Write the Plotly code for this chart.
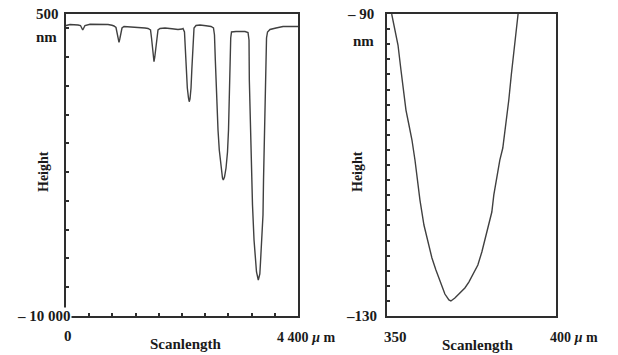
import plotly.graph_objects as go

# ---- Left profile: scan length (um) vs height (nm) ----
left_x = [0, 76, 228, 275, 303, 317, 332, 360, 455, 645, 797, 872,
          910, 948, 973, 992, 1005, 1020, 1039, 1062, 1100, 1214, 1403, 1498,
          1555, 1603, 1622, 1637, 1654, 1669, 1684, 1703, 1720, 1745, 1783, 1878,
          2010, 2124, 2200, 2219, 2247, 2257, 2276, 2301, 2323, 2337, 2352, 2371,
          2386, 2401, 2412, 2428, 2466, 2541, 2655, 2750, 2797,
          2816, 2832, 2854, 2883, 2907, 2940, 2968, 2983, 3006, 3035, 3063, 3082,
          3101, 3114, 3124, 3139, 3224, 3395, 3452,
          3471, 3477, 3490, 3514, 3537, 3566, 3590, 3613, 3647, 3676, 3689, 3712,
          3736, 3746, 3765, 3784, 3793, 3803, 3822, 3869, 3983, 4116, 4400]
left_y = [100, 135, 118, 100, -4, -56, -4, 100, 142, 152, 135, 107,
          83, 31, -161, -369, -484, -369, -161, 13, 65, 55, 31, 13,
          -4, -56, -334, -682, -995, -1159, -995, -682, -334, -56, -4, 13,
          -15, -39, -22, -4, -126, -578, -1447, -2073, -2421, -2549, -2455, -2073,
          -1447, -752, -161, 13, 100, 118, 90, 65, 13,
          -230, -1099, -2490, -3533, -4229, -4855, -5202, -5272, -5168, -4855, -4298, -3533,
          -2490, -1099, -334, -126, -108, -108, -143,
          -404, -1795, -2838, -4576, -6141, -7358, -8053, -8471, -8749, -8540, -8123, -7358,
          -6489, -5272, -3881, -2490, -1099, -334, -126, -39, 13, 65, 65]

# ---- Right profile (zoom of one groove) ----
right_x = [351.30, 352.28, 353.17, 354.05, 354.94, 355.53, 356.42, 357.31, 358.20,
           358.94, 359.68, 360.86, 362.04, 363.23, 364.41, 365.89, 367.07, 368.26,
           368.85, 370.03, 371.51, 372.99, 374.17, 375.36, 376.84, 378.02, 378.91,
           380.09, 380.98, 381.57, 382.46, 383.35, 384.23, 385.12, 386.01, 386.75,
           387.49, 388.23, 388.76]
right_y = [-90.00, -92.12, -94.11, -97.42, -100.73, -102.72, -104.70, -106.69, -109.34,
           -111.99, -114.64, -117.95, -120.33, -122.32, -123.91, -125.76, -127.09, -127.88,
           -128.01, -127.62, -126.95, -126.29, -125.50, -124.57, -123.24, -121.52, -119.93,
           -118.08, -116.23, -113.97, -111.32, -109.34, -107.75, -104.70, -101.39, -98.08,
           -94.77, -92.12, -90.00]

left_xticks = [440, 880, 1320, 1760, 2200, 2640, 3080, 3520, 3960]
left_yticks = [-9000, -8000, -7000, -6000, -5000, -4000, -3000, -2000, -1000, 0]
right_yticks = [-128, -126, -124, -122, -120, -118, -116, -114, -112, -110,
                -108, -106, -104, -102, -100, -98, -96, -94, -92]

LINE = "#404040"
AX = "#2e2e2e"
FONT = "Liberation Serif"

fig = go.Figure()
fig.add_trace(go.Scatter(x=left_x, y=left_y, mode="lines",
                         line=dict(color=LINE, width=1.4), xaxis="x", yaxis="y",
                         showlegend=False, hoverinfo="skip"))
fig.add_trace(go.Scatter(x=right_x, y=right_y, mode="lines",
                         line=dict(color=LINE, width=1.4), xaxis="x2", yaxis="y2",
                         showlegend=False, hoverinfo="skip"))

ydom = [1 - 316 / 355, 1 - 14 / 355]
common = dict(showgrid=False, zeroline=False, showline=True, mirror=True,
              linecolor=AX, linewidth=1.6, showticklabels=False,
              tickcolor=AX, tickwidth=2, ticklen=3)

fig.update_layout(
    width=618, height=355,
    margin=dict(l=0, r=0, t=0, b=0),
    paper_bgcolor="white", plot_bgcolor="white",
    xaxis=dict(domain=[66 / 618, 298 / 618], range=[0, 4400], anchor="y",
               ticks="inside", tickmode="array", tickvals=left_xticks, **common),
    yaxis=dict(domain=ydom, range=[-10000, 500], anchor="x",
               ticks="inside", tickmode="array", tickvals=left_yticks, **common),
    xaxis2=dict(domain=[387.3 / 618, 556 / 618], range=[350, 400], anchor="y2",
                ticks="", **common),
    yaxis2=dict(domain=ydom, range=[-130, -90], anchor="x2",
                ticks="inside", tickmode="array", tickvals=right_yticks, **common),
    font=dict(family=FONT, size=15, color="#1a1a1a"),
)

def ann(text, x, y, xref="paper", yref="paper", xanchor="center", yanchor="middle",
        angle=0, bg=None, size=15):
    d = dict(text="<b>" + text + "</b>", x=x, y=y, xref=xref, yref=yref, xanchor=xanchor,
             yanchor=yanchor, showarrow=False, textangle=angle,
             font=dict(family=FONT, size=size, color="#1a1a1a"))
    if bg:
        d["bgcolor"] = bg
        d["borderpad"] = 0
    fig.add_annotation(**d)

def px(xp):
    return xp / 618

def py(yp):
    return 1 - yp / 355

# left chart labels
ann("500", px(61), 500, yref="y", xanchor="right")
ann("nm", px(59), py(37), xanchor="right")
ann("– 10 000", px(72), -10000, yref="y", xanchor="right", bg="white")
ann("0", px(68), py(336))
ann("4 400 <i>µ</i> m", px(306), py(337), size=14)
ann("Scanlength", px(186), py(344))
ann("Height", px(43), py(172), angle=-90, size=14)

# right chart labels
ann("– 90", px(376), -90, yref="y2", xanchor="right")
ann("nm", px(376), py(41), xanchor="right")
ann("–130", px(378), -130, yref="y2", xanchor="right", bg="white")
ann("350", px(395), py(337))
ann("400 <i>µ</i> m", px(574), py(337), size=14)
ann("Scanlength", px(478), py(345))
ann("Height", px(357), py(172), angle=-90, size=14)

fig.write_html("out.html")
